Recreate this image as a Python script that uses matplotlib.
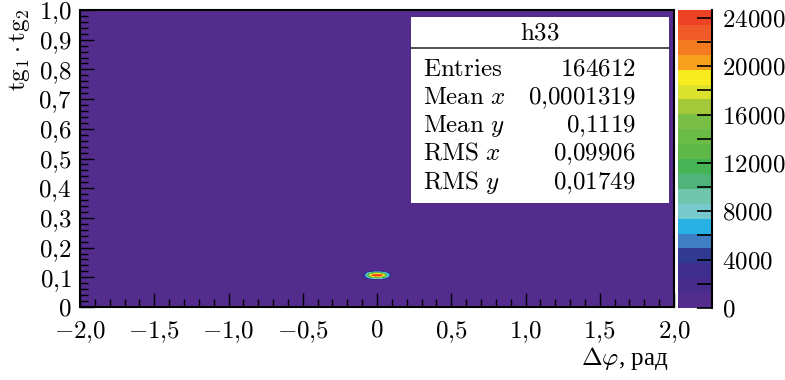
import numpy as np
import matplotlib
matplotlib.use("Agg")
import matplotlib.pyplot as plt
from matplotlib.colors import ListedColormap, BoundaryNorm
from matplotlib.ticker import MultipleLocator, FuncFormatter
from matplotlib.patches import Rectangle
from matplotlib.lines import Line2D

plt.rcParams['mathtext.fontset'] = 'cm'
plt.rcParams['font.family'] = ['Liberation Serif', 'DejaVu Serif']

# Histogram h33: counts on a grid around the peak (everything else is empty)
x_nodes = [-0.120, -0.096, -0.072, -0.048, -0.024, 0.0, 0.024, 0.048, 0.072, 0.096, 0.120]
y_nodes = [0.089, 0.095, 0.101, 0.107, 0.113, 0.119, 0.125]
counts = [
    [0, 0, 0, 0, 0, 0, 0, 0, 0, 0, 0],
    [0, 0, 600, 1700, 2900, 3400, 3000, 1800, 700, 0, 0],
    [0, 900, 4000, 10000, 14500, 15500, 14800, 10500, 4500, 1000, 0],
    [0, 1500, 7000, 17000, 23500, 24650, 24000, 17500, 8000, 1800, 0],
    [0, 900, 4500, 10500, 15000, 16000, 15200, 11000, 5000, 1100, 0],
    [0, 0, 700, 1900, 3100, 3600, 3200, 2000, 800, 0, 0],
    [0, 0, 0, 0, 0, 0, 0, 0, 0, 0, 0],
]
z_max = 24650
n_levels = 20

# 20-colour palette, lowest level first
palette = [
    '#532c8e', '#482c8c', '#3f2d8d', '#2f3a90', '#3d7fc2',
    '#28b1e5', '#77cacc', '#6fc6ad', '#50b47a', '#46b455',
    '#5eb848', '#6bbb47', '#79bf45', '#a3c93a', '#dce22c',
    '#f8ec1e', '#f8a01b', '#f47b20', '#f05a28', '#ee4224',
]

x_ticks = [-2.0, -1.5, -1.0, -0.5, 0.0, 0.5, 1.0, 1.5, 2.0]
y_ticks = [0.0, 0.1, 0.2, 0.3, 0.4, 0.5, 0.6, 0.7, 0.8, 0.9, 1.0]
z_ticks = [0, 4000, 8000, 12000, 16000, 20000, 24000]

stat_title = 'h33'
stat_names = [r'$\mathrm{Entries}$', r'$\mathrm{Mean}\ x$', r'$\mathrm{Mean}\ y$',
              r'$\mathrm{RMS}\ x$', r'$\mathrm{RMS}\ y$']
stat_values = ['164612', '0,0001319', '0,1119', '0,09906', '0,01749']

W, H = 785, 380
FS = 18


def fx(px):
    return px / W


def fy(py):
    return 1 - py / H


def comma_fmt(v, pos=None, digits=1):
    if abs(v) < 1e-9:
        return r'$0$'
    s = f'{v:.{digits}f}'.replace('.', '{,}')
    return f'${s}$'


fig = plt.figure(figsize=(W / 100, H / 100), dpi=100)

ax = fig.add_axes([fx(80), fy(307), (674 - 80) / W, (307 - 10) / H])
levels = np.linspace(0, z_max, n_levels + 1)
cmap = ListedColormap(palette)
norm = BoundaryNorm(levels, cmap.N)
ax.set_facecolor(palette[0])
cs = ax.contourf(x_nodes, y_nodes, counts, levels=levels, cmap=cmap, norm=norm)
ax.set_xlim(-2, 2)
ax.set_ylim(0, 1)
ax.axvspan(1.991, 2.0, color='white', lw=0, zorder=3)

ax.set_xticks(x_ticks)
ax.set_yticks(y_ticks)
ax.xaxis.set_minor_locator(MultipleLocator(0.1))
ax.yaxis.set_minor_locator(MultipleLocator(0.02))
ax.xaxis.set_major_formatter(FuncFormatter(comma_fmt))
ax.yaxis.set_major_formatter(FuncFormatter(comma_fmt))
ax.tick_params(which='both', direction='in', top=False, right=False,
               color='black', labelsize=FS, width=1.0)
ax.tick_params(which='major', length=10)
ax.tick_params(which='minor', length=6)
ax.tick_params(axis='x', pad=9)
ax.tick_params(axis='y', pad=6)
for sp in ax.spines.values():
    sp.set_linewidth(1.5)
    sp.set_zorder(4)

# Colour scale
cax = fig.add_axes([fx(678), fy(308), (712 - 678) / W, (308 - 10) / H])
cb = fig.colorbar(cs, cax=cax)
cb.outline.set_visible(False)
cax.set_ylim(0, z_max)
cax.set_yticks(z_ticks)
cax.yaxis.set_minor_locator(MultipleLocator(2000))
cax.yaxis.set_major_formatter(FuncFormatter(lambda v, p: f'${int(round(v))}$'))
cax.tick_params(which='both', direction='in', right=True, left=False,
                length=11, width=1.2, labelsize=FS, pad=7)
cax.add_line(Line2D([1, 1], [0, 1], transform=cax.transAxes, color='black',
                    lw=1.5, clip_on=False))

# Statistics box
fig.add_artist(Rectangle((fx(411), fy(203)), (669 - 411) / W, (203 - 17) / H,
                         transform=fig.transFigure, facecolor='white',
                         edgecolor='none', zorder=5))
fig.add_artist(Line2D([fx(411), fx(669)], [fy(48), fy(48)],
                      transform=fig.transFigure, color='#333333', lw=1.2, zorder=6))
fig.text(fx(540), fy(40), r'$\mathrm{' + stat_title + '}$', ha='center',
         va='baseline', fontsize=FS, zorder=7)
row_base = [76, 104, 132, 160, 189]
for name, val, yb in zip(stat_names, stat_values, row_base):
    fig.text(fx(423), fy(yb), name, ha='left', va='baseline', fontsize=FS, zorder=7)
    fig.text(fx(636), fy(yb), '$' + val.replace(',', '{,}') + '$', ha='right',
             va='baseline', fontsize=FS, zorder=7)

# Axis titles
fig.text(fx(20), fy(8), r'$\mathrm{tg}_1\cdot\mathrm{tg}_2$', rotation=90,
         ha='center', va='top', fontsize=FS)
fig.text(fx(668), fy(365), r'$\Delta\varphi$, рад', ha='right', va='baseline',
         fontsize=FS)

fig.savefig('out.png', dpi=100)
